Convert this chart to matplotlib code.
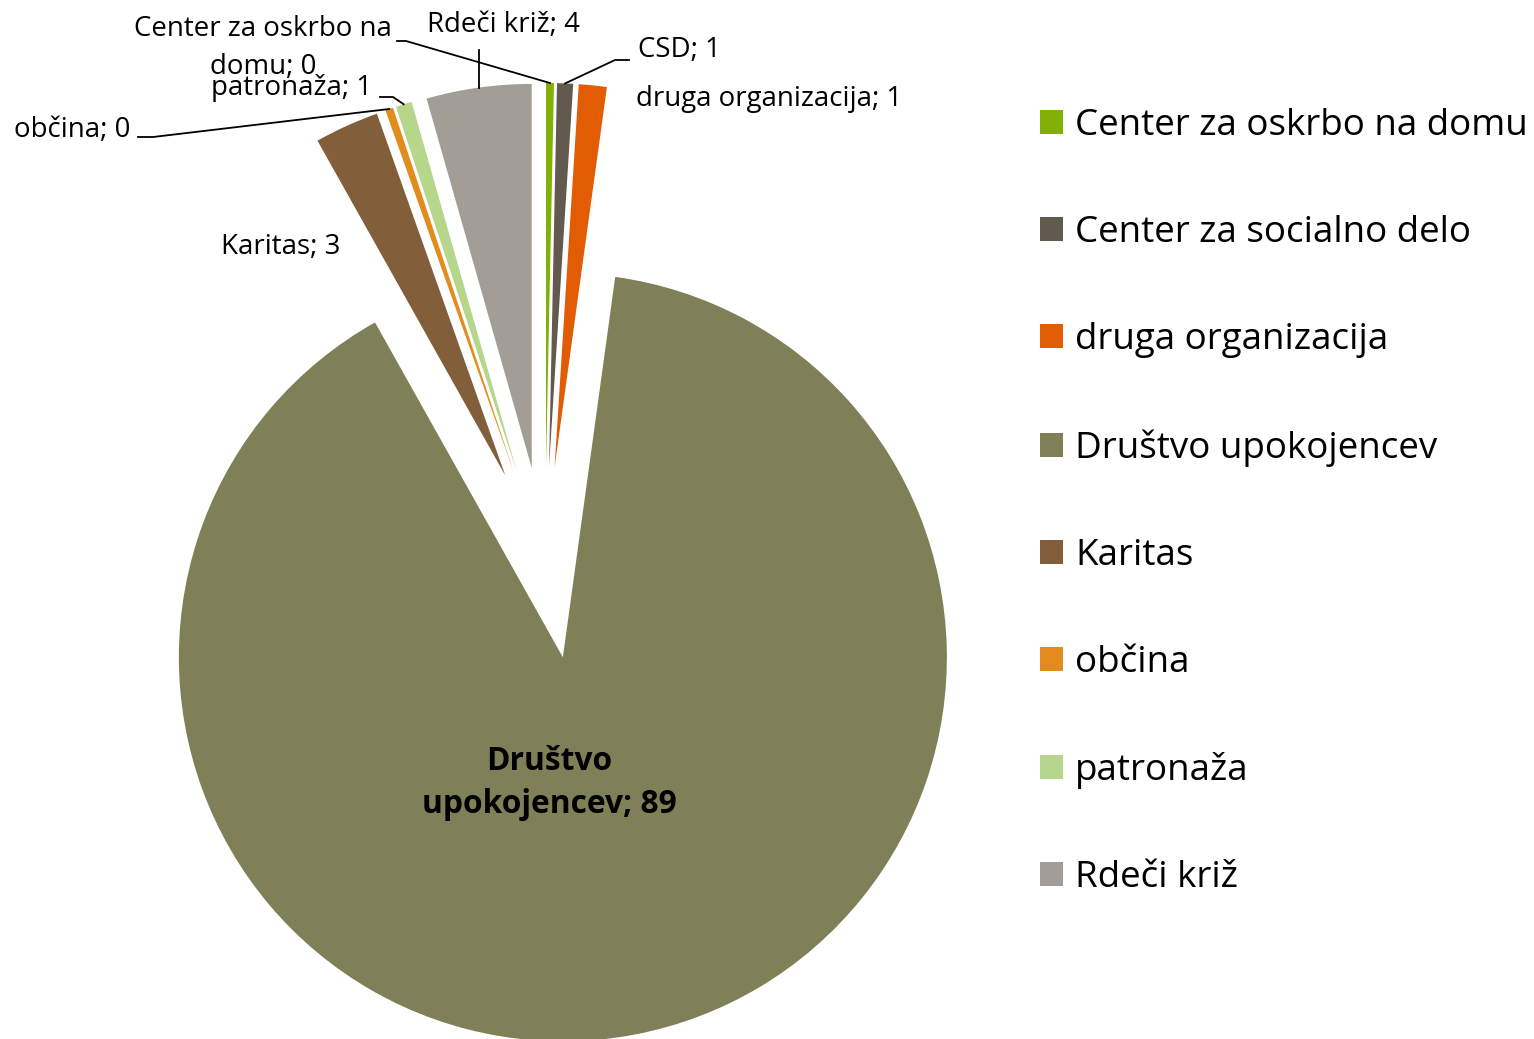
import matplotlib
matplotlib.use("Agg")
import matplotlib.pyplot as plt
import numpy as np

plt.rcParams['font.family'] = ['Open Sans', 'DejaVu Sans']

categories = ["Center za oskrbo na domu", "Center za socialno delo", "druga organizacija",
              "Društvo upokojencev", "Karitas", "občina", "patronaža", "Rdeči križ"]
label_names = ["Center za oskrbo na\ndomu", "CSD", "druga organizacija",
               "Društvo\nupokojencev", "Karitas", "občina", "patronaža", "Rdeči križ"]
values = [0.33, 0.67, 1.17, 89.4, 2.7, 0.33, 0.68, 4.4]
colors = ['#82B005', '#635A4F', '#E25C04', '#7F8058', '#835E3B', '#E28C1E', '#B5D68B', '#A29E95']

W, H = 1534, 1039
fig = plt.figure(figsize=(W / 100, H / 100), dpi=100)
ax = fig.add_axes([0, 0, 1, 1])

R = 384
C = (545, H - 563)
explode = [0.25 * R] * len(values)

wedges, _ = ax.pie(values, explode=explode, colors=colors, startangle=90,
                   counterclock=False, radius=R, center=C, frame=True,
                   wedgeprops=dict(linewidth=0))
ax.set_xlim(0, W)
ax.set_ylim(0, H)
ax.set_aspect('equal')
ax.axis('off')


def Y(y):
    return H - y


def arc_mid(w):
    tm = np.deg2rad(0.5 * (w.theta1 + w.theta2))
    cx, cy = w.center
    return cx + w.r * np.cos(tm), cy + w.r * np.sin(tm)


lab = [f"{n}; {v:.0f}" for n, v in zip(label_names, values)]
fs = 19.9
lc = 'black'
lw = 1.3

# Center za oskrbo na domu
ax.text(263, Y(48), lab[0], ha='center', va='center', fontsize=fs, linespacing=1.5)
px, py = arc_mid(wedges[0])
ax.plot([397, 406, px], [Y(41), Y(41), py], color=lc, lw=lw)
# CSD
ax.text(638, Y(50), lab[1], ha='left', va='center', fontsize=fs)
px, py = arc_mid(wedges[1])
ax.plot([629, 615, px], [Y(60), Y(60), py], color=lc, lw=lw)
# druga organizacija
ax.text(636, Y(99), lab[2], ha='left', va='center', fontsize=fs)
# Društvo
ax.text(549, Y(783), lab[3], ha='center', va='center', fontsize=22.9, fontweight='bold',
        linespacing=1.42)
# Karitas
ax.text(281, Y(247), lab[4], ha='center', va='center', fontsize=fs)
# občina
ax.text(130, Y(130), lab[5], ha='right', va='center', fontsize=fs)
px, py = arc_mid(wedges[5])
ax.plot([138, 153, px], [Y(137), Y(137), py], color=lc, lw=lw)
# patronaža
ax.text(372, Y(88), lab[6], ha='right', va='center', fontsize=fs)
px, py = arc_mid(wedges[6])
ax.plot([380, 393, px], [Y(97), Y(97), py], color=lc, lw=lw)
# Rdeči križ
ax.text(503, Y(25), lab[7], ha='center', va='center', fontsize=fs)
px, py = arc_mid(wedges[7])
ax.plot([px, px], [Y(50), py], color=lc, lw=lw)

fig.legend(wedges, categories, loc='upper left', bbox_to_anchor=(1040 / W, 1 - 108 / H),
           frameon=False, fontsize=26.5, labelspacing=1.93, handlelength=0.63,
           handleheight=0.63, handletextpad=0.33, borderpad=0, borderaxespad=0)

fig.savefig("out.png", dpi=100)
